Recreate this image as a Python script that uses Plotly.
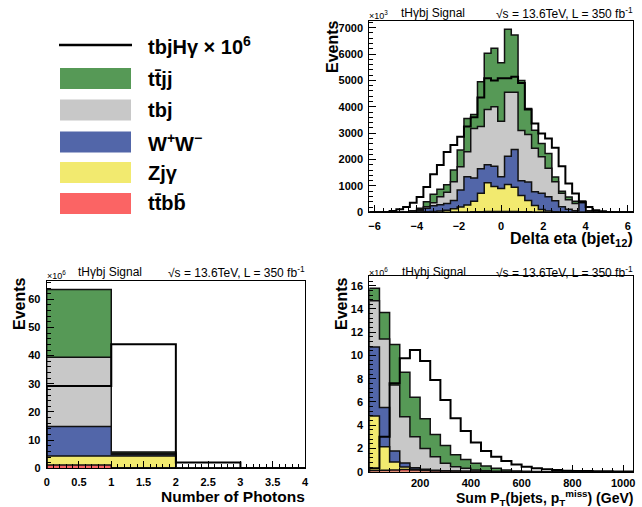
import numpy as np
import plotly.graph_objects as go

W, H = 642, 507
FONT = "Liberation Sans, Arial, Helvetica, sans-serif"

# ---------------- colours ----------------
C_TTJJ = "#569956"
C_TBJ = "#c8c8c8"
C_WW = "#5266a9"
C_ZJY = "#f2ea6f"
C_TTBB = "#fb6464"

# ---------------- Delta eta (bjet12), units of 10^3 events ----------------
eta_edges = np.linspace(-6.25, 6.25, 40)
eta_ttbb = [0, 0, 0, 0, 0, 0, 0, 0, 0, 0, 5, 5, 10, 10, 15, 20, 25, 30, 30, 30,
            30, 30, 25, 20, 15, 10, 5, 5, 0, 0, 0, 0, 0, 0, 0, 0, 0, 0, 0]
eta_zjy = [0, 0, 0, 0, 0, 0, 5, 10, 20, 30, 45, 75, 120, 190, 265, 400, 695, 1090, 950, 870,
           1020, 920, 615, 430, 245, 100, 45, 20, 10, 5, 5, 5, 0, 0, 0, 0, 0, 0, 0]
eta_ww = [0, 0, 0, 0, 0, 5, 15, 50, 130, 220, 240, 250, 320, 650, 1070, 880, 930, 680, 770, 450,
          1080, 1430, 560, 700, 520, 610, 540, 415, 205, 115, 55, 355, 20, 5, 0, 0, 0, 0, 0]
eta_tbj = [0, 0, 0, 0, 0, 5, 20, 40, 65, 116, 300, 430, 710, 880, 950, 1880, 1600, 2100, 2250, 2100,
           2420, 2170, 1900, 1800, 1650, 1390, 1080, 720, 505, 360, 270, 40, 20, 5, 0, 0, 0, 0, 0]
eta_ttjj = [0, 0, 0, 0, 5, 10, 20, 50, 185, 314, 280, 280, 440, 630, 1260, 530, 1700, 2130, 2220, 2220,
            2390, 2170, 1900, 990, 680, 500, 560, 180, 80, 100, 90, 30, 20, 5, 0, 0, 0, 0, 0]
eta_sig = [0, 0, 10, 50, 120, 200, 360, 580, 960, 1440, 1790, 2290, 2550, 2860, 3250, 3600, 4350, 5080, 5000, 5080,
           5080, 5140, 4900, 3900, 3370, 2990, 2800, 2450, 1750, 1090, 710, 390, 200, 80, 40, 15, 5, 0, 0]

# ---------------- Number of photons, units of 10^6 events ----------------
nph_edges = np.array([0, 1, 2, 3, 4])
nph_ttbb = [1.2, 0.2, 0, 0]
nph_zjy = [3.2, 4.2, 0, 0]
nph_ww = [10.4, 0.5, 0, 0]
nph_tbj = [24.6, 0.4, 0, 0]
nph_ttjj = [24.1, 0.5, 0, 0]
nph_sig = [29.2, 44.0, 2.1, 0]

# ---------------- Sum PT (bjets, MET), units of 10^6 events ----------------
pt_edges = np.arange(0, 1041, 40)
pt_ttbb = [0.10, 0.12, 0.15, 0.18, 0.15, 0.10, 0.06, 0.04, 0.02, 0.01, 0.01, 0, 0,
           0, 0, 0, 0, 0, 0, 0, 0, 0, 0, 0, 0, 0]
pt_zjy = [4.70, 2.03, 0.68, 0.22, 0.07, 0.04, 0.02, 0.01, 0.01, 0.01, 0, 0, 0,
          0, 0, 0, 0, 0, 0, 0, 0, 0, 0, 0, 0, 0]
pt_ww = [5.92, 3.37, 0.95, 0.35, 0.13, 0.08, 0.04, 0.03, 0.02, 0.01, 0.01, 0.01, 0,
         0, 0, 0, 0, 0, 0, 0, 0, 0, 0, 0, 0, 0]
pt_tbj = [3.98, 5.89, 5.67, 3.98, 2.66, 1.78, 1.17, 0.64, 0.38, 0.26, 0.12, 0.07, 0.04,
          0.02, 0.01, 0, 0, 0, 0, 0, 0, 0, 0, 0, 0, 0]
pt_ttjj = [1.07, 2.29, 3.50, 3.82, 3.39, 2.55, 1.91, 1.53, 1.02, 0.76, 0.58, 0.42, 0.26,
           0.13, 0.06, 0.03, 0.01, 0, 0, 0, 0, 0, 0, 0, 0, 0]
pt_sig = [0.3, 3.0, 7.6, 9.75, 10.47, 9.52, 7.89, 6.16, 4.59, 3.50, 2.52, 1.78, 1.29,
          0.92, 0.63, 0.43, 0.29, 0.20, 0.14, 0.09, 0.07, 0.05, 0.04, 0.03, 0.02, 0.02]

# ---------------- text ----------------
legend_labels = ["tbjHγ × 10<sup>6</sup>", "tt\u0304jj", "tbj", "W<sup>+</sup>W<sup>\u2212</sup>",
                 "Zjγ", "tt\u0304bb\u0304"]
legend_colors = [None, C_TTJJ, C_TBJ, C_WW, C_ZJY, C_TTBB]
header_left = "tHγbj Signal"
header_right = "√s = 13.6TeV, L = 350 fb<sup>-1</sup>"


def px(x):
    return x / W


def py(y):
    return 1 - y / H


def steps(edges, vals):
    edges = list(edges)
    vals = list(vals)
    x = [edges[0]] + edges[:-1] + [edges[-1], edges[-1]]
    y = [0] + vals + [vals[-1], 0]
    return x, y


fig = go.Figure()


def add_stack(xa, ya, edges, ttbb, zjy, ww, tbj, ttjj, sig):
    layers = [ttbb, zjy, ww, tbj, ttjj]
    cols = [C_TTBB, C_ZJY, C_WW, C_TBJ, C_TTJJ]
    cum = []
    run = np.zeros(len(ttbb))
    for l in layers:
        run = run + np.array(l, dtype=float)
        cum.append(run.copy())
    for c, col in reversed(list(zip(cum, cols))):
        x, y = steps(edges, c)
        fig.add_trace(go.Scatter(x=x, y=y, mode="lines", line=dict(shape="hv", color="#111111", width=1.5),
                                 fill="tozeroy", fillcolor=col, xaxis=xa, yaxis=ya,
                                 hoverinfo="skip", showlegend=False))
    x, y = steps(edges, sig)
    fig.add_trace(go.Scatter(x=x, y=y, mode="lines", line=dict(shape="hv", color="black", width=2),
                             xaxis=xa, yaxis=ya, hoverinfo="skip", showlegend=False))


add_stack("x", "y", eta_edges, eta_ttbb, eta_zjy, eta_ww, eta_tbj, eta_ttjj, eta_sig)
add_stack("x2", "y2", nph_edges, nph_ttbb, nph_zjy, nph_ww, nph_tbj, nph_ttjj, nph_sig)
add_stack("x3", "y3", pt_edges, pt_ttbb, pt_zjy, pt_ww, pt_tbj, pt_ttjj, pt_sig)

tickfont = dict(family=FONT, size=11, color="black", weight="bold")


def axis(dom, rng, dtick, minor, anchor, tickvals=None, standoff=3):
    d = dict(domain=dom, range=rng, anchor=anchor, showgrid=False, zeroline=False, automargin=False,
             showline=True, linecolor="black", linewidth=1, mirror=True,
             ticks="inside", ticklen=7, tickcolor="black", tickwidth=1,
             tickfont=tickfont, ticklabelstandoff=standoff,
             minor=dict(ticks="inside", ticklen=4, dtick=minor, tickcolor="black", showgrid=False))
    if tickvals is not None:
        d["tickmode"] = "array"
        d["tickvals"] = tickvals
    else:
        d["dtick"] = dtick
        d["tick0"] = 0
    return d


# pads (pixel coordinates of the frames)
TR = (369.3, 633.0, 20.7, 212.3)
BL = (46.7, 305.0, 281.0, 468.3)
BR = (369.3, 633.3, 275.7, 471.7)


def xdom(f):
    return [px(f[0]), px(f[1])]


def ydom(f):
    return [py(f[3]), py(f[2])]


fig.update_layout(
    width=W, height=H, margin=dict(l=0, r=0, t=0, b=0, autoexpand=False),
    paper_bgcolor="white", plot_bgcolor="white", showlegend=False,
    xaxis=axis(xdom(TR), [-6.25, 6.25], 2, 0.4, "y"),
    yaxis=axis(ydom(TR), [0, 7265], 1000, 200, "x"),
    xaxis2=axis(xdom(BL), [0, 4], 0.5, 0.1, "y2"),
    yaxis2=axis(ydom(BL), [0, 66.5], 10, 2, "x2"),
    xaxis3=axis(xdom(BR), [0, 1040], 200, 40, "y3", tickvals=[200, 400, 600, 800, 1000], standoff=1),
    yaxis3=axis(ydom(BR), [0, 16.86], 2, 0.4, "x3"),
)

ann = []


def text(x, y, s, size, xanchor="left", yanchor="middle", bold=False, angle=0):
    ann.append(dict(x=px(x), y=py(y), xref="paper", yref="paper", text=s, showarrow=False,
                    xanchor=xanchor, yanchor=yanchor, textangle=angle, borderpad=0,
                    font=dict(family=FONT, size=size, color="black", weight="bold" if bold else "normal")))


# axis titles
text(332, 46, "Events", 16, "center", "middle", True, -90)
text(634, 229, "Delta eta (bjet<sub>12</sub>)", 16, "right", "top", True)
text(19, 304, "Events", 16, "center", "middle", True, -90)
text(306, 487, "Number of Photons", 15.5, "right", "top", True)
text(341, 304, "Events", 16, "center", "middle", True, -90)
text(634, 486.5, "Sum P<sub>T</sub>(bjets, p<sub>T</sub><sup>miss</sup>) (GeV)", 14, "right", "top", True)

# headers
text(368, 15, "×10<sup>3</sup>", 9)
text(400, 13, header_left, 12)
text(634, 13, header_right, 12, "right")
text(46, 275, "×10<sup>6</sup>", 9)
text(77, 272, header_left, 12)
text(306, 272, header_right, 12, "right")
text(368, 272, "×10<sup>6</sup>", 9)
text(401, 272, header_left, 12)
text(634, 272, header_right, 12, "right")

# legend
shapes = []
leg_y = [45, 78.5, 110, 142, 172.5, 203.5]
for lab, col, yy in zip(legend_labels, legend_colors, leg_y):
    if col is None:
        shapes.append(dict(type="line", xref="paper", yref="paper", x0=px(59), x1=px(132),
                           y0=py(yy), y1=py(yy), line=dict(color="black", width=2.5)))
    else:
        shapes.append(dict(type="rect", xref="paper", yref="paper", x0=px(60), x1=px(131),
                           y0=py(yy + 10.5), y1=py(yy - 10.5), fillcolor=col, line=dict(width=0)))
    text(147, yy, lab, 20, "left", "middle", True)

fig.update_layout(annotations=ann, shapes=shapes)
fig.write_html("out.html", config={"displayModeBar": False},
               post_script="document.body.style.margin='0px';document.body.style.overflow='hidden';")
